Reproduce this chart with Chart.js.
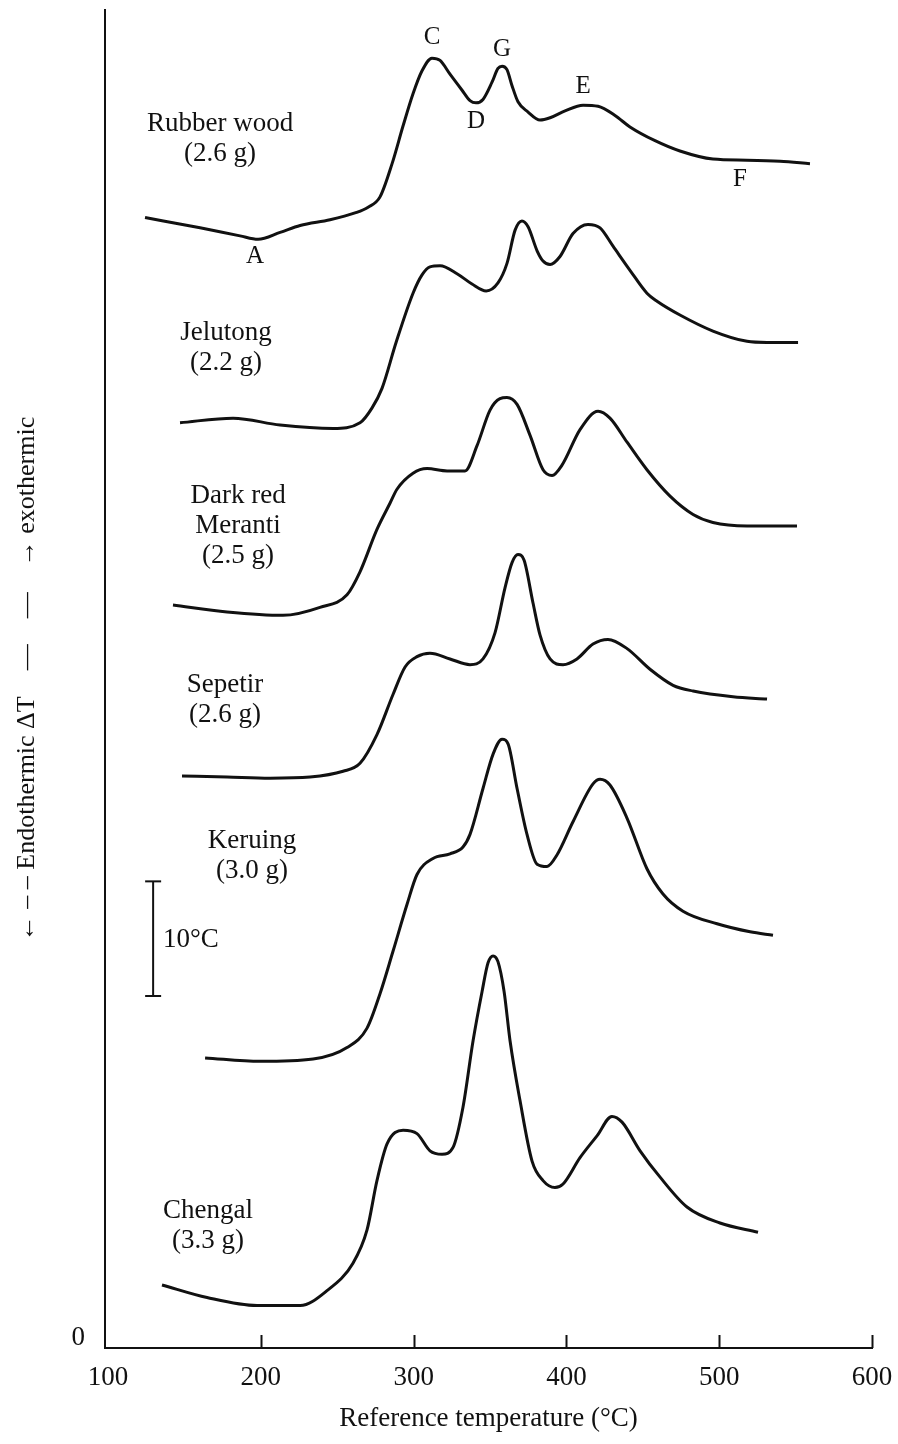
<!DOCTYPE html>
<html>
<head>
<meta charset="utf-8">
<script src="https://cdn.jsdelivr.net/npm/chart.js@4/dist/chart.umd.min.js"></script>
<style>
  html, body { margin: 0; padding: 0; background: #ffffff; }
  #wrap { width: 898px; height: 1444px; }
</style>
</head>
<body>
<div id="wrap"><canvas id="dta" width="898" height="1444"></canvas></div>
<script>
// DTA traces: reference temperature (°C) against ΔT, each trace shifted up by its own baseline
const rubberT = [124.2,160.2,186.4,198.2,212.6,225.7,245.3,261.6,270.2,278.0,285.9,293.1,299.6,305.5,312.0,317.3,323.8,331.7,336.9,340.8,345.4,351.3,355.2,357.9,361.1,364.4,368.3,374.9,382.7,389.3,399.1,410.9,420.7,431.8,441.6,458.0,474.3,495.9,518.2,539.8,559.4];
const rubberV = [98.6,97.7,97.0,96.7,97.3,97.9,98.4,99.0,99.5,100.4,103.3,106.6,109.4,111.4,112.5,112.3,111.1,109.7,108.8,108.6,108.9,110.4,111.6,111.8,111.5,110.1,108.7,107.8,107.1,107.3,107.9,108.4,108.3,107.5,106.5,105.3,104.4,103.7,103.6,103.5,103.3];

const jelutongT = [147.1,181.8,212.6,247.3,264.9,272.8,279.3,288.5,299.6,305.5,310.7,317.3,328.4,338.2,347.5,355.2,361.1,366.4,370.9,374.9,380.8,384.7,389.3,395.8,404.3,414.1,422.0,430.5,441.6,452.7,459.3,474.3,495.9,518.2,531.3,551.6];
const jelutongV = [80.7,81.1,80.5,80.2,80.7,82.0,83.7,87.7,92.0,93.6,94.3,94.4,93.7,92.8,92.2,92.9,94.6,97.5,98.3,97.8,95.7,94.8,94.5,95.2,97.2,98.0,97.7,96.1,94.0,92.0,91.3,90.1,88.7,87.8,87.7,87.7];

const merantiT = [142.5,177.9,214.5,238.7,256.4,264.9,276.0,284.6,289.1,299.6,308.8,321.9,333.6,341.5,350.0,356.5,361.1,367.7,376.2,384.7,390.6,397.1,408.9,420.7,428.5,439.7,452.7,467.8,482.9,495.9,518.2,550.9];
const merantiV = [64.8,64.2,63.9,64.6,65.7,67.7,71.4,73.7,74.9,76.3,76.7,76.5,76.5,78.7,81.8,82.8,82.9,82.3,79.6,76.6,76.1,77.0,80.1,81.7,81.1,79.0,76.6,74.3,72.7,72.0,71.7,71.7];

const sepetirT = [148.4,177.9,206.0,232.2,253.8,264.9,276.0,286.5,294.4,302.2,310.7,323.8,336.9,345.4,353.3,359.8,364.4,368.3,372.3,378.1,382.7,389.3,397.8,406.9,417.4,427.2,439.7,454.7,469.8,482.9,509.0,531.3];
const sepetirV = [49.9,49.8,49.7,49.8,50.3,51.0,53.5,57.0,59.4,60.3,60.6,60.1,59.6,60.1,62.4,66.3,68.5,69.2,68.7,65.0,62.2,60.1,59.6,60.1,61.4,61.8,61.0,59.2,57.8,57.3,56.8,56.6];

const keruingT = [163.5,199.5,234.2,256.4,269.5,278.0,286.5,295.7,302.2,312.7,323.8,332.3,336.9,345.4,352.0,357.9,361.8,367.7,374.2,380.8,387.3,393.8,404.3,417.4,422.0,428.5,439.7,452.7,463.2,476.3,498.6,520.2,535.2];
const keruingV = [25.3,25.0,25.2,26.2,27.9,30.9,34.6,38.7,41.3,42.7,43.1,43.7,44.8,48.8,51.8,53.1,52.7,48.8,44.8,42.2,42.0,43.0,45.9,49.2,49.6,49.1,46.2,41.8,39.6,38.1,37.0,36.3,36.0];

const chengalT = [135.3,164.8,197.5,225.7,243.3,260.3,269.5,276.0,282.6,293.1,302.2,310.7,318.6,325.8,332.3,338.9,344.8,348.7,352.0,355.2,359.2,363.1,369.6,377.5,384.7,392.5,397.8,408.9,420.0,429.8,436.4,448.2,461.3,478.9,500.5,525.4];
const chengalV = [5.5,4.4,3.7,3.7,5.0,7.4,10.3,14.6,17.8,19.0,18.7,17.2,16.9,17.5,21.0,26.8,31.1,33.6,34.2,33.7,31.1,26.8,21.6,16.3,14.6,14.0,14.3,16.6,18.5,20.2,19.7,17.2,14.9,12.3,10.9,10.1];

// 10 °C calibration bar
const scaleBarT = [129.5, 129.5];
const scaleBarV = [30.7, 40.7];

// axis ticks
const xTicks = [100, 200, 300, 400, 500, 600];
const yTicks = [0];

// wood names with sample mass, and where each block sits
const woodNames = [
  ['Rubber wood', '(2.6 g)'],
  ['Jelutong', '(2.2 g)'],
  ['Dark red', 'Meranti', '(2.5 g)'],
  ['Sepetir', '(2.6 g)'],
  ['Keruing', '(3.0 g)'],
  ['Chengal', '(3.3 g)']
];
const woodNameT = [173.3, 177.2, 185.1, 176.6, 194.2, 165.4];
const woodNameV = [106.8, 88.5, 74.3, 57.8, 44.2, 12.0];

// lettered features of the rubber wood trace
const featureLetters = ['A', 'C', 'D', 'E', 'F', 'G'];
const featureT = [196.2, 312.0, 340.8, 410.9, 513.6, 357.9];
const featureV = [95.2, 114.3, 107.0, 110.0, 101.9, 113.3];

const ink = '#111111';
const serif = '"Liberation Serif", "DejaVu Serif", serif';

const pts = (T, V) => T.map((t, i) => ({ x: t, y: V[i] }));
const trace = (label, T, V) => ({
  label, data: pts(T, V),
  borderColor: ink, borderWidth: 3, pointRadius: 0,
  cubicInterpolationMode: 'monotone', fill: false
});

// keep the plot frame exactly where the axes are placed
const fixBox = size => s => {
  if (s.isHorizontal()) s.height = size; else s.width = size;
  s.paddingLeft = 0; s.paddingRight = 0; s.paddingTop = 0; s.paddingBottom = 0;
};

const paperPlugin = {
  id: 'paper',
  beforeDraw(chart) {
    const { ctx, width, height } = chart;
    ctx.save();
    ctx.fillStyle = '#ffffff';
    ctx.fillRect(0, 0, width, height);
    ctx.restore();
  }
};

const notesPlugin = {
  id: 'notes',
  afterDraw(chart) {
    const { ctx, scales: { x, y } } = chart;
    ctx.save();
    // tick marks standing up from the temperature axis
    ctx.strokeStyle = ink;
    ctx.lineWidth = 2;
    xTicks.slice(1).forEach(v => {
      const px = Math.round(x.getPixelForValue(v)) + 0.5;
      ctx.beginPath();
      ctx.moveTo(px, y.bottom);
      ctx.lineTo(px, y.bottom - 13);
      ctx.stroke();
    });
    // wood names
    ctx.fillStyle = ink;
    ctx.textAlign = 'center';
    ctx.textBaseline = 'middle';
    ctx.font = '27px ' + serif;
    woodNames.forEach((lines, i) => {
      const px = x.getPixelForValue(woodNameT[i]);
      const py = y.getPixelForValue(woodNameV[i]);
      lines.forEach((s, k) => ctx.fillText(s, px, py + k * 30));
    });
    // feature letters
    ctx.font = '25px ' + serif;
    featureLetters.forEach((s, i) => {
      ctx.fillText(s, x.getPixelForValue(featureT[i]), y.getPixelForValue(featureV[i]));
    });
    // calibration label
    ctx.textAlign = 'left';
    ctx.font = '27px ' + serif;
    ctx.fillText('10°C', x.getPixelForValue(136.0), y.getPixelForValue(35.6));
    ctx.restore();
  }
};

new Chart(document.getElementById('dta'), {
  type: 'line',
  data: {
    datasets: [
      trace('Rubber wood', rubberT, rubberV),
      trace('Jelutong', jelutongT, jelutongV),
      trace('Dark red Meranti', merantiT, merantiV),
      trace('Sepetir', sepetirT, sepetirV),
      trace('Keruing', keruingT, keruingV),
      trace('Chengal', chengalT, chengalV),
      {
        label: '10°C', data: pts(scaleBarT, scaleBarV),
        borderColor: ink, borderWidth: 2,
        pointStyle: 'line', pointRadius: 8, pointBorderWidth: 2,
        pointBorderColor: ink, pointBackgroundColor: ink, tension: 0
      }
    ]
  },
  options: {
    responsive: false,
    animation: false,
    devicePixelRatio: 1,
    layout: { padding: { top: 8, right: 26, left: 0, bottom: 0 } },
    plugins: { legend: { display: false }, tooltip: { enabled: false } },
    scales: {
      x: {
        type: 'linear', min: 98, max: 600,
        afterBuildTicks: s => { s.ticks = xTicks.map(v => ({ value: v })); },
        afterFit: fixBox(96),
        grid: { display: false, drawTicks: false },
        border: { display: true, color: ink, width: 2 },
        ticks: { color: ink, font: { family: serif, size: 27 }, padding: 14, maxRotation: 0, autoSkip: false },
        title: {
          display: true, text: 'Reference temperature (°C)', color: ink,
          font: { family: serif, size: 27 }, padding: { top: 0, bottom: 9 }
        }
      },
      y: {
        type: 'linear', min: 0, max: 116.7,
        afterBuildTicks: s => { s.ticks = yTicks.map(v => ({ value: v })); },
        afterFit: fixBox(105),
        grid: { display: false, drawTicks: false },
        border: { display: true, color: ink, width: 2 },
        ticks: { color: ink, font: { family: serif, size: 27 }, padding: 20, labelOffset: -10 },
        title: {
          display: true, text: '← – – Endothermic ΔT\u2003—\u2003—\u2003→ exothermic', color: ink,
          font: { family: serif, size: 26 }, padding: { top: 12, bottom: 0 }
        }
      }
    }
  },
  plugins: [paperPlugin, notesPlugin]
});
</script>
</body>
</html>
